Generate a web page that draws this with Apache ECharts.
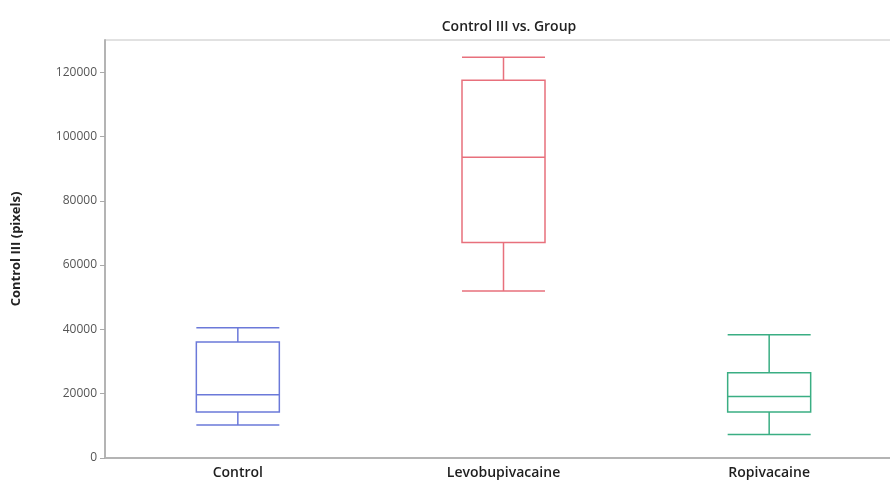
<!DOCTYPE html>
<html>
<head>
<meta charset="utf-8">
<script src="https://cdn.jsdelivr.net/npm/echarts@6/dist/echarts.min.js"></script>
<style>
  html, body { margin: 0; padding: 0; background: #ffffff; }
  #chart { width: 890px; height: 486px; }
</style>
</head>
<body>
<div id="chart"></div>
<script>
// Groups on the x axis
const groups = ['Control', 'Levobupivacaine', 'Ropivacaine'];
// Box statistics per group: [lower whisker, Q1, median, Q3, upper whisker]
const controlStats = [10300, 14300, 19700, 36100, 40500];
const levoStats = [51900, 67000, 93500, 117500, 124600];
const ropiStats = [7300, 14300, 19100, 26500, 38300];
// Y axis ticks
const yTicks = [0, 20000, 40000, 60000, 80000, 100000, 120000];

const boxColors = ['#6b79d9', '#e8707c', '#3aae83'];
const allStats = [controlStats, levoStats, ropiStats];

const chart = echarts.init(document.getElementById('chart'));
chart.setOption({
  backgroundColor: '#ffffff',
  animation: false,
  title: {
    text: 'Control III vs. Group',
    left: 504,
    textAlign: 'center',
    top: 15,
    textStyle: { fontFamily: 'Open Sans', fontSize: 14, fontWeight: 600, color: '#222' }
  },
  grid: {
    left: 105, top: 40, right: -12, bottom: 28,
    outerBoundsMode: 'none',
    containLabel: false,
    show: true, borderColor: '#c4c4c4', borderWidth: 1, backgroundColor: '#ffffff'
  },
  xAxis: {
    type: 'category',
    data: groups,
    axisLine: { lineStyle: { color: '#b4b4b4', width: 2 } },
    axisTick: { show: false },
    axisLabel: { fontFamily: 'Open Sans', fontSize: 14, fontWeight: 600, color: '#1e1e1e', margin: 8 },
    splitLine: { show: false }
  },
  yAxis: {
    type: 'value',
    min: 0,
    max: 130000,
    interval: 20000,
    name: 'Control III (pixels)',
    nameLocation: 'middle',
    nameGap: 82,
    nameTextStyle: { fontFamily: 'Open Sans', fontSize: 13, fontWeight: 'bold', color: '#222' },
    axisLine: { show: true, lineStyle: { color: '#b4b4b4', width: 2 } },
    axisTick: { show: true, length: 5, customValues: yTicks, lineStyle: { color: '#aaa' } },
    axisLabel: {
      fontFamily: 'Open Sans', fontSize: 12, color: '#555', margin: 8,
      customValues: yTicks,
      formatter: v => String(v)
    },
    splitLine: { show: false }
  },
  series: [{
    type: 'boxplot',
    boxWidth: [83, 83],
    data: allStats.map((s, i) => ({
      value: s,
      itemStyle: { color: 'rgba(0,0,0,0)', borderColor: boxColors[i], borderWidth: 1.5 }
    }))
  }]
});
</script>
</body>
</html>
